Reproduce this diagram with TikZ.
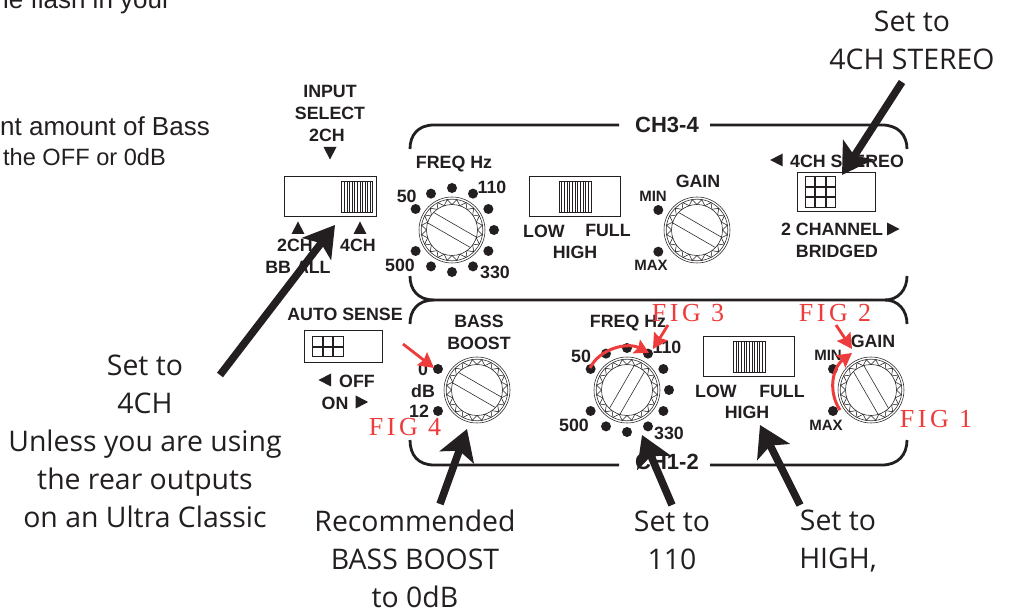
\documentclass[tikz,border=0pt]{standalone}
\usepackage{fontspec}
\usetikzlibrary{arrows.meta}
\setmainfont{Liberation Sans}
\newfontfamily\annofont{Open Sans}
\newfontfamily\figfont[LetterSpace=14]{Liberation Serif}
\definecolor{ink}{HTML}{231F20}
\definecolor{redmark}{HTML}{EE3B3B}
\newcommand{\knobdraw}[3]{%
 \begin{scope}[shift={(#1,#2)},thinl]
  \draw (0,0) circle (33); \draw (0,0) circle (30.8); \draw (0,0) circle (25.5);
  \foreach \a in {0,18,...,342}{\draw (\a:25.5) -- (\a+9:30.8) -- (\a+18:25.5);}
  \begin{scope}[rotate=#3]
   \draw (-24.8,6) -- (24.8,6);
   \draw (-24.8,-6) -- (24.8,-6);
  \end{scope}
 \end{scope}}
\newcommand{\tridraw}[3]{\fill[ink,shift={(#1,#2)},rotate=#3] (-6.5,6) -- (6.5,6) -- (0,-6.5) -- cycle;}
\newcommand{\slider}[6]{%
 \draw[ink,line width=.8] (#1,#2) rectangle (#3,#4);
 \draw[ink,line width=.6] (#5,#2+5) rectangle (#6,#4-4);
 \foreach \s in {1,...,11}{\draw[ink,line width=.5] ({#5+\s*(#6-#5)/12},#2+5) -- ({#5+\s*(#6-#5)/12},#4-4);}}
\newcommand{\dipcell}[2]{\draw[ink,line width=.7] (#1,#2) rectangle ++(9.4,9.4);}
\tikzset{
 x=1pt,y=-1pt,
 thinl/.style={ink,line width=.55},
 lab/.style={inner sep=0,text=ink,font=\bfseries\fontsize{17.8}{18}\selectfont},
 slab/.style={inner sep=0,text=ink,font=\bfseries\fontsize{15}{15}\selectfont},
 bigl/.style={inner sep=0,text=ink,font=\bfseries\fontsize{22}{22}\selectfont},
 anno/.style={inner sep=0,text=ink,align=center,font=\annofont\fontsize{28.4}{38}\selectfont},
 cut/.style={inner sep=0,text=ink,font=\fontsize{26}{26}\selectfont},
 figl/.style={inner sep=0,text=redmark,font=\figfont\fontsize{26}{26}\selectfont},
 dot/.style={circle,fill=ink,inner sep=0,minimum size=10pt},
 panel/.style={ink,line width=2.8},
 bigarrow/.style={ink,line width=7.5,-{Stealth[length=30pt,width=36pt,inset=7pt]}},
 redarrow/.style={redmark,line width=2.8,-{Stealth[length=15pt,width=16pt,inset=2pt]}},
 redcurve/.style={redmark,line width=3,-{Stealth[length=14pt,width=15pt,inset=2pt]}},
}
\begin{document}
\begin{tikzpicture}
\useasboundingbox (0,0) rectangle (1010,612);
\fill[white] (0,0) rectangle (1010,612);
% panels
\draw[panel] (410,149) .. controls (410,135) and (418,125) .. (434,125) -- (619,125);
\draw[panel] (710,125) -- (882,125) .. controls (898,125) and (907,135) .. (907,149);
\draw[panel] (410,276) .. controls (410,290) and (418,300) .. (434,300) -- (885,300) .. controls (898,300) and (907,290) .. (907,276);
\draw[panel] (410,324) .. controls (410,310) and (418,300) .. (434,300);
\draw[panel] (885,300) .. controls (898,300) and (907,310) .. (907,324);
\draw[panel] (410,440) .. controls (410,455) and (418,465) .. (434,465) -- (619,465);
\draw[panel] (710,465) -- (882,465) .. controls (898,465) and (907,455) .. (907,440);
% knobs
\knobdraw{452}{230}{-30}
\knobdraw{697}{230}{-30}
\knobdraw{477}{390}{-30}
\knobdraw{627}{390}{60}
\knobdraw{871}{390}{-60}
% dots
\foreach \c/\n in {452/a,627/b}{
 \foreach \a in {90,60,30,0,-30,-60,-90,-120,-150,120,150}{
  \node[dot] (d\n\a) at ({\c+42*cos(\a)},{(\c==452?230:390)-42*sin(\a)}) {};
 }}
\node[dot] (g1) at (658.3,210) {};
\node[dot] (g2) at (658.3,251.7) {};
\node[dot] (b1) at (438,369) {};
\node[dot] (b2) at (438,411) {};
\node[dot] (g3) at (833,369) {};
\node[dot] (g4) at (833,411) {};
% sliders
\slider{284.3}{176.7}{376}{216}{341.7}{372.7}
\slider{529}{176.7}{620}{216}{559}{591}
\slider{703.3}{336.7}{794.3}{376}{733.3}{765}
% DIP switches
\draw[ink,line width=.9] (797.3,172.3) rectangle (875.7,211.3);
\foreach \i in {0,1,2}{\foreach \j in {0,1,2}{\dipcell{805.2+\i*10.5}{176.8+\j*10.5}}}
\draw[ink,line width=.9] (304.3,330) rectangle (382.3,362.3);
\foreach \i in {0,1,2}{\foreach \j in {0,1}{\dipcell{312.7+\i*10.5}{336.5+\j*10.5}}}
% triangles
\tridraw{330}{153}{180}
\tridraw{298}{228}{0}
\tridraw{360}{228}{0}
\tridraw{776.7}{160}{90}
\tridraw{893}{229}{-90}
\tridraw{325}{380}{90}
\tridraw{361.7}{402}{-90}
% panel labels
\node[lab] (l1) at (330,91) {INPUT};
\node[lab] (l2) at (330,113) {SELECT};
\node[lab] (l3) at (327,135) {2CH};
\node[lab] (l4) at (295,245) {2CH};
\node[lab] (l5) at (358,245) {4CH};
\node[lab] (l6) at (298,267) {BB ALL};
\node[lab] (l7) at (454,164) {FREQ Hz};
\node[lab] (l8) at (406.7,196.7) {50};
\node[lab] (l9) at (492,187) {110};
\node[lab] (l10) at (400,265.7) {500};
\node[lab] (l11) at (495,272.7) {330};
\node[lab] (l12) at (544,231) {LOW};
\node[lab] (l13) at (608,230) {FULL};
\node[lab] (l14) at (575,252) {HIGH};
\node[bigl] (l15) at (667,125) {CH3-4};
\node[lab] (l16) at (698,181) {GAIN};
\node[slab] (l17) at (653,196) {MIN};
\node[slab] (l18) at (651,265) {MAX};
\node[lab] (l19) at (847,161) {4CH STEREO};
\node[lab] (l20) at (832,229) {2 CHANNEL};
\node[lab] (l21) at (837,251) {BRIDGED};
\node[lab] (l22) at (345,314) {AUTO SENSE};
\node[lab] (l23) at (357,381) {OFF};
\node[lab] (l24) at (335,403) {ON};
\node[lab] (l25) at (479,321) {BASS};
\node[lab] (l26) at (479,343) {BOOST};
\node[lab] (l27) at (423,369) {0};
\node[lab] (l28) at (423,391) {dB};
\node[lab] (l29) at (419,411) {12};
\node[lab] (l30) at (628,323) {FREQ Hz};
\node[lab] (l31) at (581,356) {50};
\node[lab] (l32) at (667,347) {110};
\node[lab] (l33) at (574,425) {500};
\node[lab] (l34) at (669,433) {330};
\node[lab] (l35) at (716,391) {LOW};
\node[lab] (l36) at (782,391) {FULL};
\node[lab] (l37) at (747,412) {HIGH};
\node[slab] (l38) at (828,355) {MIN};
\node[slab] (l39) at (826,425) {MAX};
\node[lab] (l40) at (873,341) {GAIN};
\node[bigl] (l41) at (667,462) {CH1-2};
% cut-off text
\node[cut,anchor=base east] (c1) at (171,9) {he flash in your};
\node[cut,anchor=base east] (c2) at (210,136) {nt amount of Bass};
\node[cut,anchor=base east,font=\fontsize{23.6}{24}\selectfont] (c3) at (166,166) {the OFF or 0dB};
% annotations
\node[anno] (a1) at (912,40) {Set to\\4CH STEREO};
\node[anno] (a2) at (145,441.5) {Set to\\4CH\\Unless you are using\\the rear outputs\\on an Ultra Classic};
\node[anno] (a3) at (415,559) {Recommended\\BASS BOOST\\to 0dB};
\node[anno] (a4) at (672,540) {Set to\\110};
\node[anno] (a5) at (838,541) {Set to\\HIGH,};
% FIG labels
\node[figl] (f1) at (936,419) {FIG 1};
\node[figl] (f2) at (835,313) {FIG 2};
\node[figl] (f3) at (688,313) {FIG 3};
\node[figl] (f4) at (405,427) {FIG 4};
% arrow ends
\coordinate (s1) at (220,375); \coordinate (t1) at (335,225);
\coordinate (s2) at (902,82);  \coordinate (t2) at (842,175);
\coordinate (s3) at (440,504); \coordinate (t3) at (467,429);
\coordinate (s4) at (672,505); \coordinate (t4) at (642,435);
\coordinate (s5) at (800,505); \coordinate (t5) at (760,425);
\draw[bigarrow] (s1) -- (t1);
\draw[bigarrow] (s2) -- (t2);
\draw[bigarrow] (s3) -- (t3);
\draw[bigarrow] (s4) -- (t4);
\draw[bigarrow] (s5) -- (t5);
% red arrows
\coordinate (r1) at (403,344); \coordinate (r2) at (434,368);
\coordinate (r3) at (668,325); \coordinate (r4) at (653,349);
\coordinate (r5) at (836,325); \coordinate (r6) at (852,349);
\coordinate (r7) at (590,368); \coordinate (r8) at (649,353);
\coordinate (r9) at (840,410); \coordinate (r10) at (852,353);
\draw[redarrow] (r1) -- (r2);
\draw[redarrow] (r3) -- (r4);
\draw[redarrow] (r5) -- (r6);
\draw[redcurve] (r7) .. controls (600,348) and (628,342) .. (r8);
\draw[redcurve] (r9) .. controls (828,392) and (832,368) .. (r10);
\end{tikzpicture}
\end{document}
